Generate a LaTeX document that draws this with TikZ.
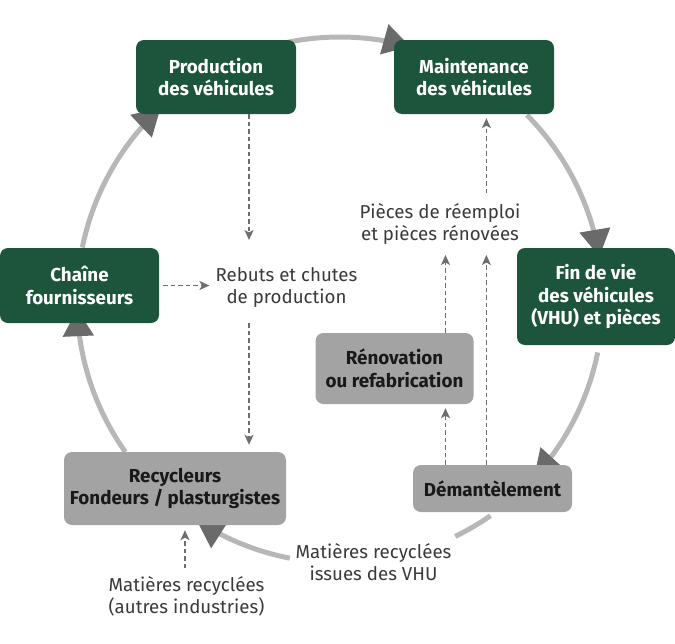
\documentclass[tikz,border=0pt]{standalone}
\usepackage{fontspec}
\setmainfont{Fira Sans}
\usetikzlibrary{arrows.meta,calc}
\definecolor{boxgreen}{HTML}{1D553C}
\definecolor{boxgray}{HTML}{A3A3A3}
\definecolor{arcgray}{HTML}{B7B7B7}
\definecolor{tipgray}{HTML}{6A6A6A}
\definecolor{dashgray}{HTML}{6E6E6E}
\definecolor{labelgray}{HTML}{3A3A3A}
\pgfdeclarelayer{bg}
\pgfsetlayers{bg,main}
\begin{document}
\begin{tikzpicture}[x=1pt,y=-1pt,
  greenbox/.style={fill=boxgreen, rounded corners=8pt, text=white, align=center,
    font=\fontsize{18.8}{22.5}\selectfont\bfseries, inner sep=0pt},
  graybox/.style={fill=boxgray, rounded corners=8pt, text=black!90, align=center,
    font=\fontsize{18.8}{22.5}\selectfont\bfseries, inner sep=0pt},
  lbl/.style={text=labelgray, align=center, font=\fontsize{18.7}{22}\selectfont, inner sep=0pt},
  dasharrow/.style={draw=dashgray, line width=1.3pt, dash pattern=on 4.5pt off 3pt,
    -{Stealth[length=10pt,width=9pt,inset=2.5pt]}},
  cyc/.style={draw=arcgray, line width=5pt},
  cyctip/.style={cyc, -{Triangle[length=27pt,width=30pt,color=tipgray]}}]
\useasboundingbox (0,0) rectangle (675,643);

% boxes
\node[greenbox, minimum width=160pt, minimum height=74pt] (prod) at (216,77) {Production\\des véhicules};
\node[greenbox, minimum width=160pt, minimum height=74pt] (maint) at (474,77) {Maintenance\\des véhicules};
\node[greenbox, minimum width=159pt, minimum height=75pt] (chaine) at (79.5,285.5) {Chaîne\\fournisseurs};
\node[greenbox, minimum width=158pt, minimum height=97pt] (fin) at (596,296.5) {Fin de vie\\des véhicules\\(VHU) et pièces};
\node[graybox, minimum width=158pt, minimum height=71pt] (renov) at (394.5,368.5) {Rénovation\\ou refabrication};
\node[graybox, minimum width=222pt, minimum height=73pt] (recy) at (175,488.5) {Recycleurs\\Fondeurs / plasturgistes};
\node[graybox, minimum width=159pt, minimum height=47pt] (dem) at (492.5,488.5) {Démantèlement};

% labels
\node[lbl] (rebuts) at (286.5,287) {Rebuts et chutes\\de production};
\node[lbl] (pieces) at (440,224) {Pièces de réemploi\\et pièces rénovées};
\node[lbl] (matvhu) at (373.5,562) {Matières recyclées\\issues des VHU};
\node[lbl] (matautres) at (186.5,596) {Matières recyclées\\(autres industries)};

% helper coordinates
\coordinate (xa) at (249,0);
\coordinate (xb) at (445.5,0);
\coordinate (xc) at (486.4,0);
\coordinate (xd) at (185,0);
\coordinate (e1) at (249,240);
\coordinate (s3) at (249,323);
\coordinate (s4) at (486.4,193);
\coordinate (e5) at (445.5,255);
\coordinate (e6) at (486.4,255);
\coordinate (s8) at (185,568);

% dashed connectors
\draw[dasharrow] (prod.south -| xa) -- (e1);
\draw[dasharrow, shorten <=4pt, shorten >=6pt] (chaine.east) -- (chaine.east -| rebuts.west);
\draw[dasharrow, shorten >=7pt] (s3) -- (recy.north -| xa);
\draw[dasharrow, shorten >=4pt] (s4) -- (maint.south -| xc);
\draw[dasharrow] (renov.north -| xb) -- (e5);
\draw[dasharrow] (dem.north -| xc) -- (e6);
\draw[dasharrow, shorten >=4pt] (dem.north -| xb) -- (renov.south -| xb);
\draw[dasharrow, shorten >=5pt] (s8) -- (recy.south -| xd);

% cycle arcs (behind the boxes)
\begin{pgfonlayer}{bg}
\draw[cyctip] plot[domain=-104:-74.5, samples=60] ({340+263*cos(\x)},{300+263*sin(\x)});
\draw[cyctip] plot[domain=-44.7:-9.5, samples=60] ({340+263*cos(\x)},{300+263*sin(\x)});
\draw[cyctip] plot[domain=11.5:42.5, samples=60] ({340+263*cos(\x)},{300+263*sin(\x)});
\draw[cyc] plot[domain=55.1:64, samples=30] ({340+263*cos(\x)},{300+263*sin(\x)});
\draw[cyctip] plot[domain=101:123, samples=60] ({340+263*cos(\x)},{300+263*sin(\x)});
\draw[cyctip] plot[domain=144.7:178, samples=60] ({340+263*cos(\x)},{300+263*sin(\x)});
\draw[cyctip] plot[domain=191.5:227, samples=60] ({340+263*cos(\x)},{300+263*sin(\x)});
\end{pgfonlayer}
\end{tikzpicture}
\end{document}
